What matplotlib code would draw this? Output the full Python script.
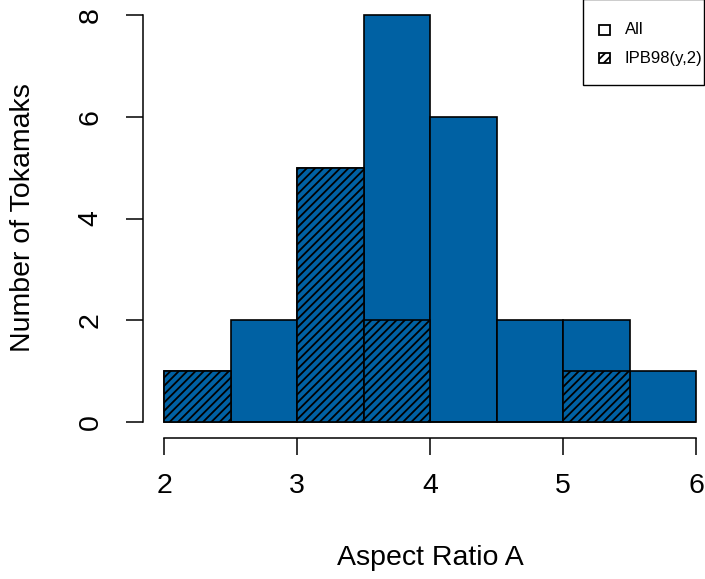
import matplotlib.pyplot as plt
from matplotlib.patches import Rectangle

plt.rcParams['font.family'] = ['Liberation Sans', 'DejaVu Sans']
plt.rcParams['hatch.linewidth'] = 1.3
plt.rcParams['hatch.color'] = 'black'

# histogram of aspect ratios, bin width 0.5
bin_left = [2.0, 2.5, 3.0, 3.5, 4.0, 4.5, 5.0, 5.5]
all_counts = [1, 2, 5, 8, 6, 2, 2, 1]
ipb_counts = [1, 0, 5, 2, 0, 0, 1, 0]
bar_color = '#0061a3'

fig = plt.figure(figsize=(7.05, 5.79), dpi=100)
ax = fig.add_axes([0, 0, 1, 1])

# map pixels: x=2 -> 164px, x=6 -> 696px ; y=0 -> 422px, y=8 -> 15px
xs = 532 / 4.0
ys = 407 / 8.0
ax.set_xlim(2 - 164 / xs, 2 + (705 - 164) / xs)
ax.set_ylim(-(579 - 422) / ys, 8 + 15 / ys)
ax.patch.set_visible(False)

ax.bar(bin_left, all_counts, width=0.5, align='edge', color=bar_color,
       edgecolor='black', linewidth=1.2)
ax.bar(bin_left, ipb_counts, width=0.5, align='edge', color=bar_color,
       edgecolor='black', linewidth=1.2, hatch='////')

for s in ['top', 'right']:
    ax.spines[s].set_visible(False)
ax.spines['left'].set_position(('data', 2 - 21 / xs))
ax.spines['bottom'].set_position(('data', -16 / ys))
ax.spines['left'].set_bounds(0, 8)
ax.spines['bottom'].set_bounds(2, 6)
ax.spines['left'].set_linewidth(1.1)
ax.spines['bottom'].set_linewidth(1.1)

ax.set_xticks([2, 3, 4, 5, 6])
ax.set_yticks([0, 2, 4, 6, 8])
ax.tick_params(axis='both', direction='out', length=12.5, width=1.1, labelsize=20.5)
ax.tick_params(axis='x', pad=12.5)
ax.tick_params(axis='y', pad=16)
for lab in ax.get_yticklabels():
    lab.set_rotation(90)
    lab.set_va('center')

fig.text(430 / 705, 1 - 558 / 579, 'Aspect Ratio A', ha='center', va='center', fontsize=20.5)
fig.text(23 / 705, 1 - 218 / 579, 'Number of Tokamaks', ha='center', va='center',
         rotation=90, fontsize=20.5)

# legend box, R style
fig.patches.append(Rectangle((583 / 705, 1 - 85 / 579), 121 / 705, 86 / 579,
                             transform=fig.transFigure, fill=False,
                             edgecolor='black', linewidth=1.0))
leg_items = [('All', None), ('IPB98(y,2)', '////')]
for i, (name, h) in enumerate(leg_items):
    yc = 30 + i * 28
    fig.patches.append(Rectangle((599 / 705, 1 - (yc + 5) / 579), 11 / 705, 10 / 579,
                                 transform=fig.transFigure, facecolor='white',
                                 edgecolor='black', linewidth=1.3, hatch=h))
    fig.text(625 / 705, 1 - yc / 579, name, ha='left', va='center', fontsize=12)

fig.savefig('out.png', dpi=100)
